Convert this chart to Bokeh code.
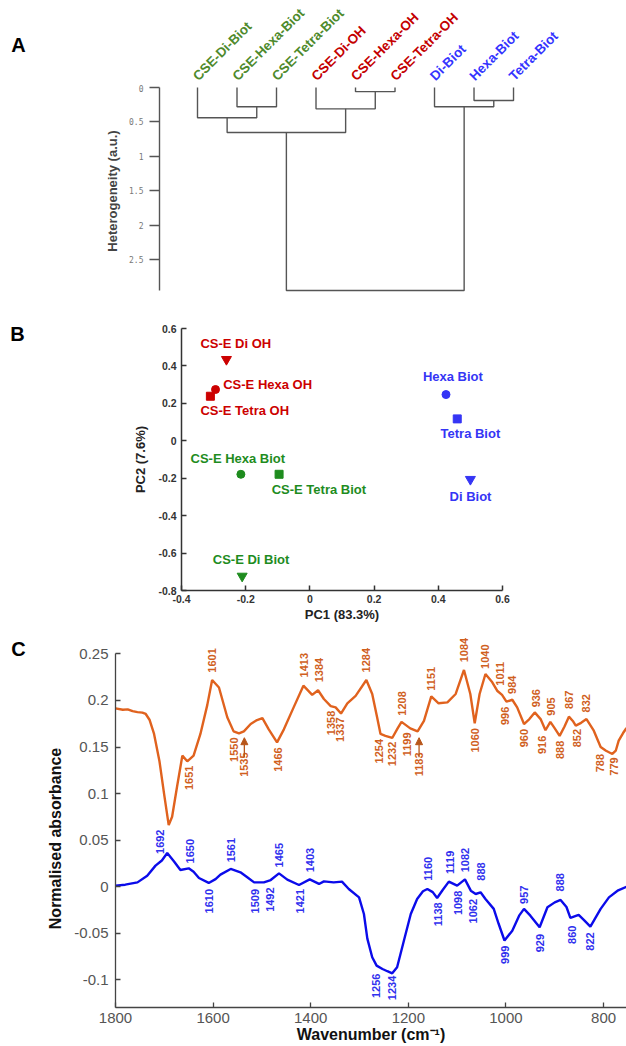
import math
from bokeh.plotting import figure
from bokeh.layouts import column, row
from bokeh.models import Range1d, FixedTicker, CustomJSTickFormatter, Arrow, NormalHead
from bokeh.core.properties import value
from bokeh.embed import file_html
from bokeh.resources import INLINE

FONT = "Liberation Sans"

# ---------------- Panel A data (dendrogram) ----------------
leaf_names = ["CSE-Di-Biot", "CSE-Hexa-Biot", "CSE-Tetra-Biot",
              "CSE-Di-OH", "CSE-Hexa-OH", "CSE-Tetra-OH",
              "Di-Biot", "Hexa-Biot", "Tetra-Biot"]
leaf_group = ["cse_biot"] * 3 + ["cse_oh"] * 3 + ["biot"] * 3
merge_left = [4, 7, 1, 6, 3, 0, 14, 15]
merge_right = [5, 8, 2, 10, 9, 11, 13, 12]
merge_height = [0.06, 0.19, 0.28, 0.28, 0.31, 0.44, 0.655, 2.95]
het_ticks = [0, 0.5, 1, 1.5, 2, 2.5]

# ---------------- Panel B data (PCA) ----------------
pc_names = ["CS-E Di OH", "CS-E Hexa OH", "CS-E Tetra OH",
            "CS-E Hexa Biot", "CS-E Tetra Biot", "CS-E Di Biot",
            "Hexa Biot", "Tetra Biot", "Di Biot"]
pc_group = ["cse_oh"] * 3 + ["cse_biot"] * 3 + ["biot"] * 3
pc_kind = ["Di", "Hexa", "Tetra", "Hexa", "Tetra", "Di", "Hexa", "Tetra", "Di"]
pc1 = [-0.26, -0.294, -0.31, -0.215, -0.096, -0.211, 0.424, 0.459, 0.50]
pc2 = [0.435, 0.274, 0.238, -0.179, -0.179, -0.723, 0.247, 0.117, -0.206]
pc_ticks_x = [-0.4, -0.2, 0, 0.2, 0.4, 0.6]
pc_ticks_y = [-0.8, -0.6, -0.4, -0.2, 0, 0.2, 0.4, 0.6]

# ---------------- Panel C data (FTIR spectra) ----------------
orange_wn = [1800, 1785, 1775, 1765, 1755, 1745, 1738, 1730, 1721, 1710, 1700, 1691,
             1684, 1674, 1663, 1653, 1640, 1626, 1612, 1602, 1588, 1571, 1558, 1547,
             1537, 1523, 1510, 1499, 1486, 1469, 1455, 1435, 1415, 1397, 1385, 1373,
             1359, 1349, 1338, 1325, 1308, 1286, 1274, 1264, 1257, 1247, 1233, 1222,
             1214, 1196, 1181, 1168, 1153, 1138, 1120, 1103, 1086, 1073, 1064, 1054,
             1042, 1028, 1018, 1008, 999, 987, 977, 963, 952, 941, 929, 919, 909,
             900, 890, 880, 871, 863, 857, 846, 835, 820, 806, 795, 782, 775, 769, 760, 753]
orange_abs = [0.1915, 0.190, 0.1905, 0.1885, 0.1875, 0.187, 0.1855, 0.179, 0.164, 0.135, 0.098, 0.066,
              0.075, 0.107, 0.1407, 0.1346, 0.1407, 0.164, 0.195, 0.222, 0.214, 0.182, 0.1668, 0.1646,
              0.1668, 0.1747, 0.179, 0.181, 0.169, 0.155, 0.169, 0.1926, 0.2159, 0.206, 0.211, 0.2016,
              0.194, 0.1926, 0.186, 0.197, 0.205, 0.222, 0.207, 0.182, 0.164, 0.162, 0.1597, 0.170,
              0.177, 0.170, 0.1668, 0.178, 0.2044, 0.197, 0.198, 0.207, 0.2328, 0.207, 0.1754, 0.207,
              0.2285, 0.2195, 0.2105, 0.206, 0.1987, 0.2008, 0.1926, 0.1747, 0.180, 0.1872, 0.180, 0.168, 0.177,
              0.170, 0.162, 0.172, 0.1826, 0.178, 0.173, 0.176, 0.180, 0.1675, 0.150, 0.146, 0.1425, 0.146, 0.1568, 0.165, 0.1704]

blue_wn = [1800, 1780, 1755, 1735, 1718, 1705, 1694, 1680, 1667, 1650, 1640, 1629,
           1609, 1595, 1585, 1564, 1544, 1530, 1516, 1496, 1482, 1465, 1448, 1424,
           1402, 1383, 1373, 1353, 1336, 1322, 1301, 1291, 1284, 1274, 1265, 1253,
           1243, 1233, 1223, 1209, 1195, 1182, 1170, 1161, 1150, 1141, 1130, 1117,
           1100, 1084, 1072, 1062, 1052, 1042, 1025, 1015, 1003, 987, 973, 963,
           950, 931, 915, 900, 888, 876, 868, 851, 840, 827, 806, 789, 770, 753]
blue_abs = [0.001, 0.002, 0.0045, 0.0117, 0.0225, 0.028, 0.036, 0.027, 0.0178, 0.0196, 0.016, 0.0092,
            0.0039, 0.008, 0.0128, 0.0189, 0.0153, 0.010, 0.0045, 0.0045, 0.007, 0.0142, 0.0074, 0.0017,
            0.0077, 0.0028, 0.0056, 0.0045, 0.0053, -0.0026, -0.0116, -0.0295, -0.056, -0.076, -0.085, -0.0886,
            -0.091, -0.0933, -0.0868, -0.058, -0.0295, -0.0133, -0.005, -0.0026, -0.006, -0.0123, -0.004, 0.0053,
            0.001, 0.0077, -0.0044, -0.008, -0.0062, -0.0133, -0.024, -0.040, -0.058, -0.0474, -0.0313, -0.024,
            -0.0313, -0.0438, -0.0223, -0.017, -0.0144, -0.022, -0.0337, -0.0305, -0.036, -0.043, -0.024, -0.0116, -0.004, -0.0002]

ftir_ticks_x = [1800, 1600, 1400, 1200, 1000, 800]
ftir_ticks_y = [-0.1, -0.05, 0, 0.05, 0.1, 0.15, 0.2, 0.25]

# peak annotations (text) and where each annotation sits (layout)
or_up_text = ["1601", "1413", "1384", "1284", "1208", "1151", "1084", "1040", "1011", "984", "936", "905", "867", "832"]
or_up_x = [1602, 1414, 1383, 1286, 1214, 1153, 1086, 1042, 1013, 987, 939, 907, 871, 835]
or_up_y = [0.2299, 0.2248, 0.2195, 0.2302, 0.1837, 0.2105, 0.241, 0.2339, 0.2159, 0.207, 0.1926, 0.1837, 0.1909, 0.1872]
or_dn_text = ["1651", "1550", "1535", "1466", "1358", "1337", "1254", "1232", "1199", "1183", "1060", "996", "960", "916", "888", "852", "788", "779"]
or_dn_x = [1650, 1558, 1536, 1467, 1359, 1340, 1260, 1233, 1202, 1178, 1064, 1001, 963, 926, 890, 854, 808, 779]
or_dn_y = [0.130, 0.1603, 0.1442, 0.1496, 0.189, 0.1818, 0.1586, 0.1557, 0.1657, 0.1442, 0.1704, 0.1933, 0.1694, 0.1622, 0.1568, 0.1694, 0.1425, 0.1389]
arrow_wn = [1536, 1178]
arrow_from = [0.139, 0.139]
arrow_to = [0.160, 0.160]

bl_up_text = ["1692", "1650", "1561", "1465", "1403", "1160", "1119", "1082", "888", "957", "888"]
bl_up_x = [1709, 1648, 1563, 1464, 1402, 1159, 1115, 1083, 1051, 962, 890]
bl_up_y = [0.035, 0.0249, 0.026, 0.0206, 0.0153, 0.0063, 0.0135, 0.0153, 0.0063, -0.0187, -0.0052]
bl_dn_text = ["1610", "1509", "1492", "1421", "1256", "1234", "1138", "1098", "1062", "999", "929", "860", "822"]
bl_dn_x = [1609, 1515, 1484, 1422, 1266, 1233, 1140, 1099, 1067, 1001, 931, 864, 827]
bl_dn_y = [-0.0026, -0.0026, -0.0009, -0.0026, -0.0936, -0.0958, -0.017, -0.0044, -0.0133, -0.0635, -0.0509, -0.042, -0.0492]

# ---------------- styles ----------------
A_COL = {"cse_biot": "#4E8A2C", "cse_oh": "#C40000", "biot": "#3434FF"}
B_COL = {"cse_biot": "#1E8C1E", "cse_oh": "#CC0000", "biot": "#3535F5"}
MARK = {"Di": "inverted_triangle", "Hexa": "circle", "Tetra": "square"}
MSIZE = {"Di": 10, "Hexa": 8, "Tetra": 8}
ORANGE = "#E0621E"
ORANGE_TXT = "#D0601E"
BLUE = "#0B0BEA"
BLUE_TXT = "#3030EE"
LETTER_KW = dict(text_font=value(FONT), text_font_size="20px", text_font_style="bold",
                 text_align="center", text_baseline="middle", text_color="black")

fmt = CustomJSTickFormatter(code="return String(Math.round(tick*1000)/1000)")


def clean(p):
    p.xgrid.visible = False
    p.ygrid.visible = False
    p.outline_line_color = None
    p.background_fill_color = "white"
    p.border_fill_color = "white"


def side_fig(w, h):
    # a plain margin canvas (pixel coordinates, y downward) for panel letters / side texts
    f = figure(width=w, height=h, output_backend="svg", toolbar_location=None,
               x_axis_location=None, y_axis_location=None,
               x_range=Range1d(0, w), y_range=Range1d(h, 0), min_border=0)
    clean(f)
    return f


def box(f):
    return column(f, spacing=0)


# ================= Panel A =================
la = side_fig(40, 300)
la.text(x=[18], y=[44], text=["A"], **LETTER_KW)

xr_a = Range1d(0.038, 11.86)
node_x = [i + 1 for i in range(len(leaf_names))]
node_h = [0.0] * len(leaf_names)
xs, ys = [], []
for l, r, h in zip(merge_left, merge_right, merge_height):
    xl, xr = node_x[l], node_x[r]
    xs.append([xl, xl, xr, xr])
    ys.append([node_h[l], h, h, node_h[r]])
    node_x.append((xl + xr) / 2)
    node_h.append(h)

pa_top = figure(width=586, height=84, output_backend="svg", toolbar_location=None,
                x_axis_location=None, y_axis_location=None,
                x_range=xr_a, y_range=Range1d(0, 1),
                min_border_left=119, min_border_right=0, min_border_top=0, min_border_bottom=0)
clean(pa_top)
pa_top.text(x=node_x[:9], y=[0] * 9, text=leaf_names, angle=math.pi / 4,
            text_color=[A_COL[g] for g in leaf_group], text_font=value(FONT),
            text_font_size="13.5px", text_font_style="bold", text_align="left",
            text_baseline="bottom", x_offset=3, y_offset=-1)

pa = figure(width=586, height=216, output_backend="svg", toolbar_location=None,
            x_axis_location=None, y_axis_location="left",
            x_range=xr_a, y_range=Range1d(3.023, -0.0145),
            min_border_left=119, min_border_right=0, min_border_top=2, min_border_bottom=5)
clean(pa)
pa.multi_line(xs, ys, line_color="#555555", line_width=1.4)
ay = pa.yaxis[0]
ay.bounds = (0, merge_height[-1])
ay.ticker = FixedTicker(ticks=het_ticks)
ay.formatter = fmt
ay.major_tick_in = 0
ay.major_tick_out = 10
ay.minor_tick_out = 0
ay.minor_tick_in = 0
ay.axis_line_color = "#555555"
ay.axis_line_width = 1.4
ay.major_tick_line_color = "#555555"
ay.major_tick_line_width = 1.4
ay.major_label_text_font = "DejaVu Sans Mono"
ay.major_label_text_font_size = "8px"
ay.major_label_text_color = "#777777"
ay.major_label_standoff = 6
ay.axis_label = "Heterogeneity (a.u.)"
ay.axis_label_text_font = FONT
ay.axis_label_text_font_size = "13px"
ay.axis_label_text_font_style = "bold"
ay.axis_label_standoff = 6

block_a = row(box(la), column(box(pa_top), box(pa), spacing=0), spacing=0)

# ================= Panel B =================
lb = side_fig(40, 327)
lb.text(x=[17], y=[33], text=["B"], **LETTER_KW)

pb = figure(width=586, height=327, output_backend="svg", toolbar_location=None,
            x_range=Range1d(-0.4, 0.6), y_range=Range1d(-0.8, 0.6),
            min_border_left=141, min_border_right=124, min_border_top=28, min_border_bottom=37)
clean(pb)
pb.scatter(x=pc1, y=pc2, marker=[MARK[k] for k in pc_kind], size=[MSIZE[k] for k in pc_kind],
           fill_color=[B_COL[g] for g in pc_group], line_color=[B_COL[g] for g in pc_group])
pb_lab_x = [-0.341, -0.270, -0.341, -0.372, -0.119, -0.3025, 0.352, 0.407, 0.435]
pb_lab_y = [0.518, 0.302, 0.162, -0.092, -0.2595, -0.6356, 0.341, 0.0385, -0.297]
pb.text(x=pb_lab_x, y=pb_lab_y, text=pc_names, text_color=[B_COL[g] for g in pc_group],
        text_font=value(FONT), text_font_size="13px", text_font_style="bold",
        text_align="left", text_baseline="middle")
for ax, ticks in ((pb.xaxis[0], pc_ticks_x), (pb.yaxis[0], pc_ticks_y)):
    ax.ticker = FixedTicker(ticks=ticks)
    ax.formatter = fmt
    ax.major_tick_in = 5
    ax.major_tick_out = 0
    ax.minor_tick_in = 0
    ax.minor_tick_out = 0
    ax.axis_line_color = "#333333"
    ax.axis_line_width = 1.5
    ax.major_tick_line_color = "#333333"
    ax.major_tick_line_width = 1.5
    ax.major_label_text_font = FONT
    ax.major_label_text_font_size = "10.5px"
    ax.major_label_text_font_style = "bold"
    ax.major_label_text_color = "#333333"
    ax.axis_label_text_font = FONT
    ax.axis_label_text_font_size = "13px"
    ax.axis_label_text_font_style = "bold"
    ax.axis_label_text_color = "#222222"
pb.xaxis[0].axis_label = "PC1 (83.3%)"
pb.xaxis[0].major_label_standoff = 4
pb.xaxis[0].axis_label_standoff = 1
pb.yaxis[0].axis_label = "PC2 (7.6%)"
pb.yaxis[0].major_label_standoff = 5
pb.yaxis[0].axis_label_standoff = 7

block_b = row(box(lb), box(pb), spacing=0)

# ================= Panel C =================
lc = side_fig(70, 419)
lc.text(x=[18], y=[21], text=["C"], **LETTER_KW)
lc.text(x=[55], y=[211], text=["Normalised absorbance"], angle=math.pi / 2,
        text_font=value(FONT), text_font_size="16px", text_font_style="bold",
        text_align="center", text_baseline="middle", text_color="#111111")

pc = figure(width=556, height=419, output_backend="svg", toolbar_location=None,
            x_range=Range1d(1800, 753), y_range=Range1d(-0.13, 0.272),
            min_border_left=45, min_border_right=0, min_border_top=6, min_border_bottom=39)
clean(pc)
pc.line(orange_wn, orange_abs, line_color=ORANGE, line_width=2.4)
pc.line(blue_wn, blue_abs, line_color=BLUE, line_width=2.4)
lab_kw = dict(angle=math.pi / 2, text_font=value(FONT), text_font_size="11px",
              text_font_style="bold", text_baseline="middle")
pc.text(x=or_up_x, y=or_up_y, text=or_up_text, text_color=ORANGE_TXT, text_align="left", **lab_kw)
pc.text(x=or_dn_x, y=or_dn_y, text=or_dn_text, text_color=ORANGE_TXT, text_align="right", **lab_kw)
pc.text(x=bl_up_x, y=bl_up_y, text=bl_up_text, text_color=BLUE_TXT, text_align="left", **lab_kw)
pc.text(x=bl_dn_x, y=bl_dn_y, text=bl_dn_text, text_color=BLUE_TXT, text_align="right", **lab_kw)
for wn, y0, y1 in zip(arrow_wn, arrow_from, arrow_to):
    pc.add_layout(Arrow(x_start=wn, y_start=y0, x_end=wn, y_end=y1, line_color="#B8561A",
                        line_width=1.3,
                        end=NormalHead(size=7, fill_color="#B8561A", line_color="#B8561A")))
for ax, ticks in ((pc.xaxis[0], ftir_ticks_x), (pc.yaxis[0], ftir_ticks_y)):
    ax.ticker = FixedTicker(ticks=ticks)
    ax.formatter = fmt
    ax.major_tick_in = 5
    ax.major_tick_out = 0
    ax.minor_tick_in = 0
    ax.minor_tick_out = 0
    ax.axis_line_color = "#444444"
    ax.axis_line_width = 1.3
    ax.major_tick_line_color = "#444444"
    ax.major_tick_line_width = 1.3
    ax.major_label_text_font = FONT
    ax.major_label_text_font_size = "15px"
    ax.major_label_text_color = "#555555"
    ax.axis_label_text_font = FONT
    ax.axis_label_text_font_size = "16px"
    ax.axis_label_text_font_style = "bold"
    ax.axis_label_text_color = "#111111"
pc.yaxis[0].bounds = (-0.13, 0.25)
pc.xaxis[0].axis_label = "Wavenumber (cm\u207b\u00b9)"
pc.xaxis[0].major_label_standoff = 5
pc.xaxis[0].axis_label_standoff = 0
pc.yaxis[0].major_label_standoff = 7

block_c = row(box(lc), box(pc), spacing=0)

layout = column(block_a, block_b, block_c, spacing=0)
open("out.html", "w").write(file_html(layout, INLINE))
